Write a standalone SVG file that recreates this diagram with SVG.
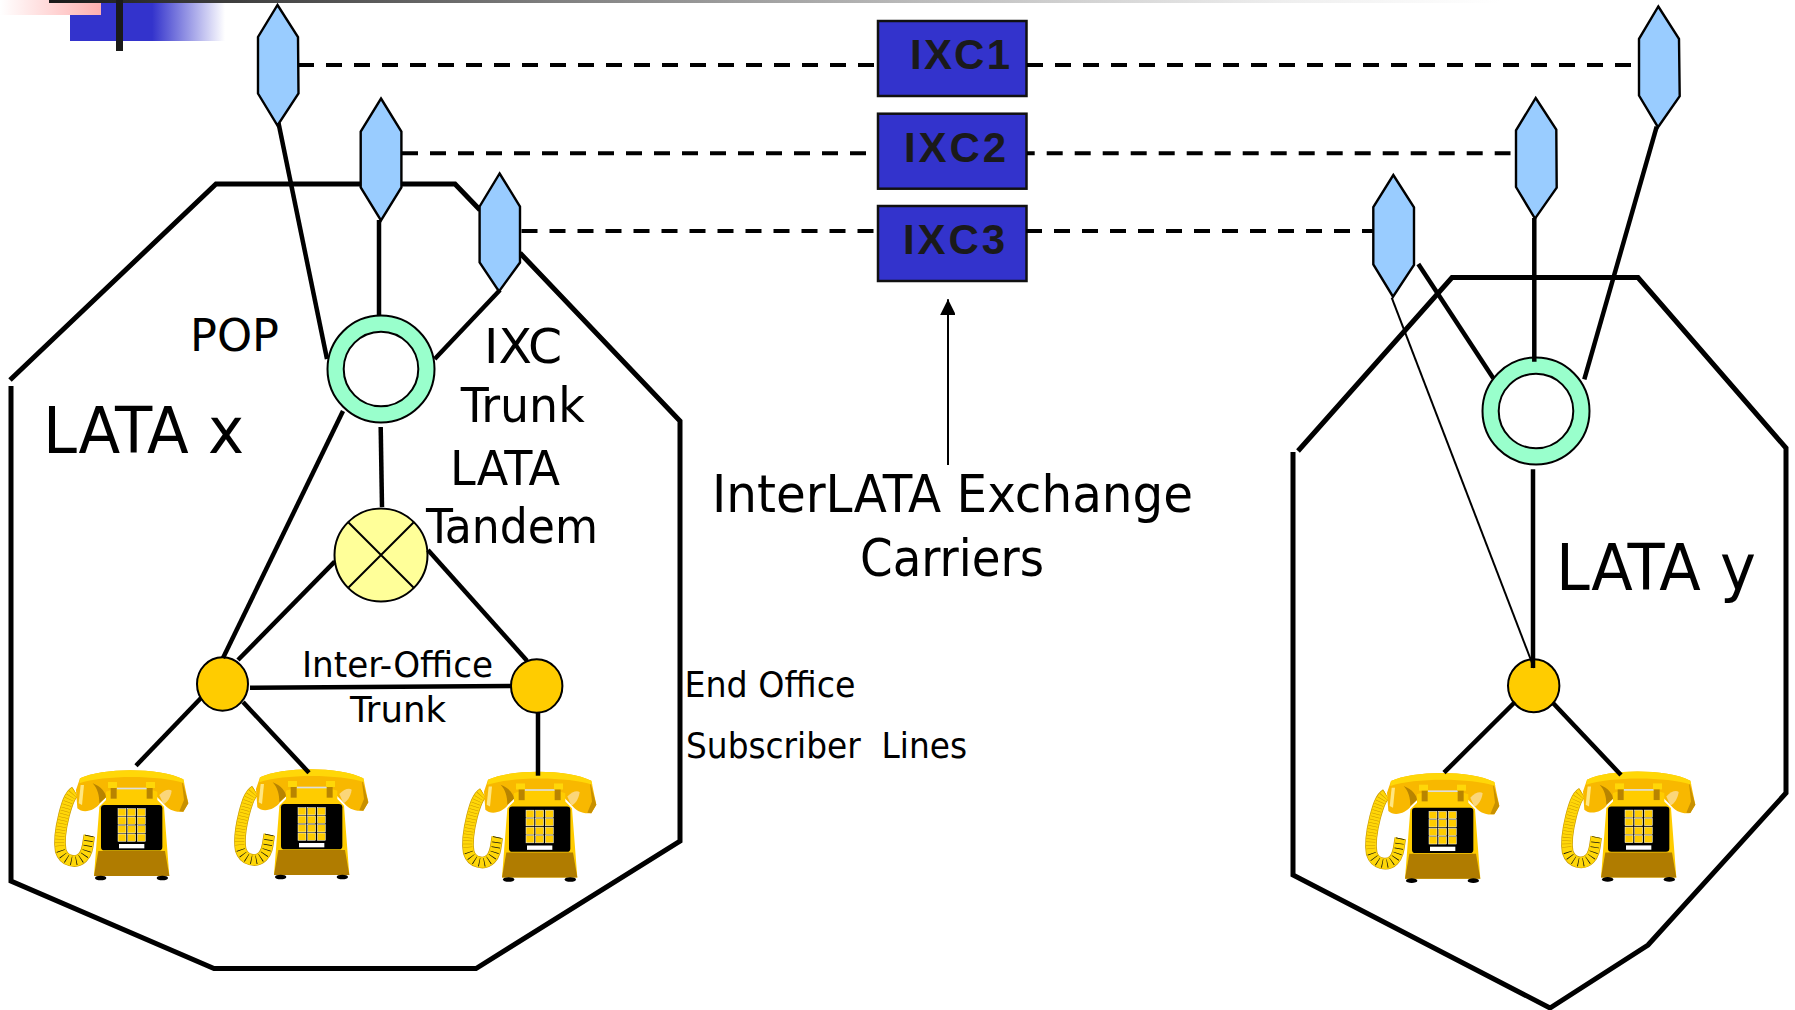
<svg xmlns="http://www.w3.org/2000/svg" xmlns:xlink="http://www.w3.org/1999/xlink" width="1795" height="1010" viewBox="0 0 1795 1010">
<style>
text{font-family:"DejaVu Sans","Noto Sans",sans-serif;font-stretch:condensed;fill:#000}
.region{fill:none;stroke:#000;stroke-width:5;stroke-linejoin:miter}
.link{fill:none;stroke:#000;stroke-width:4.5}
.thin{fill:none;stroke:#000;stroke-width:2}
.dash{fill:none;stroke:#000;stroke-width:4;stroke-dasharray:16 12}
.hex{fill:#99ccff;stroke:#000;stroke-width:2.4}
.ring{fill:#99ffcc;stroke:#000;stroke-width:2}
.hole{fill:#fff;stroke:#000;stroke-width:2}
.eo{fill:#ffcc00;stroke:#000;stroke-width:2}
.tandem{fill:#ffff99;stroke:#000;stroke-width:2}
.box{fill:#3333cc;stroke:#111;stroke-width:2.5}
.ixc{font-family:"Liberation Sans",Arial,sans-serif;font-weight:700;font-size:42px;fill:#1a1a1a;font-stretch:normal}
.key{fill:#ffcc00;stroke:#fff;stroke-width:1.5}
</style>
<defs>
<linearGradient id="gBar" x1="0" x2="1" y1="0" y2="0"><stop offset="0" stop-color="#1a1a1a"/><stop offset=".35" stop-color="#808080"/><stop offset=".62" stop-color="#c0c0c0"/><stop offset=".85" stop-color="#eeeeee"/><stop offset="1" stop-color="#ffffff"/></linearGradient>
<linearGradient id="gBlue" x1="0" x2="1" y1="0" y2="0"><stop offset="0" stop-color="#3333cc"/><stop offset=".53" stop-color="#3333cc"/><stop offset="1" stop-color="#ffffff"/></linearGradient>
<linearGradient id="gPink" x1="0" x2="1" y1="0" y2="0"><stop offset="0" stop-color="#ffffff"/><stop offset="1" stop-color="#ffb0b0"/></linearGradient>
<marker id="arrow" markerUnits="userSpaceOnUse" markerWidth="16" markerHeight="15" refX="16" refY="8" orient="auto"><path d="M0 0L16 8L0 16Z" fill="#000"/></marker>
<g id="phone" transform="translate(40 740) scale(.33333)">
  <path d="M105 155C88 165 80 195 72 225C62 265 56 300 62 332C72 364 108 372 128 352C145 335 143 310 148 287" fill="none" stroke="#c89a00" stroke-width="35"/>
  <path d="M105 155C88 165 80 195 72 225C62 265 56 300 62 332C72 364 108 372 128 352C145 335 143 310 148 287" fill="none" stroke="#ffd708" stroke-width="31"/>
  <path d="M105 155C88 165 80 195 72 225C62 265 56 300 60 322" fill="none" stroke="#c89400" stroke-width="28" stroke-dasharray="1.5 8"/>
  <path d="M62 332C72 364 108 372 128 352C145 335 143 310 148 287" fill="none" stroke="#111" stroke-width="26" stroke-dasharray="2 13"/>
  <path d="M120 115C190 82 360 82 430 118L445 190L430 215C405 218 385 210 370 190L340 160L210 160L180 190C165 212 130 222 112 205L108 150Z" fill="#f8b800"/>
  <path d="M425 118L445 190L430 215L418 214L432 180Z" fill="#c89000"/>
  <path d="M120 115C190 82 360 82 430 118L433 130C360 105 190 105 118 130Z" fill="#ffd708"/>
  <path d="M158 130C185 140 198 160 198 172L178 190C178 165 172 145 158 130Z" fill="#b88400"/>
  <path d="M122 135L132 135L126 195L116 190Z" fill="#ffe680"/>
  <path d="M358 165C372 150 388 145 395 152C392 172 382 188 370 192Z" fill="#fbd67a"/>
  <path d="M198 155L230 145L320 145L352 155L352 180L372 200L388 408L162 408L178 200L198 180Z" fill="#ffcc00"/>
  <rect x="230" y="143" width="92" height="5" fill="#ddd"/>
  <rect x="204" y="126" width="27" height="18" fill="#ffd708"/><rect x="318" y="126" width="27" height="18" fill="#ffd708"/>
  <rect x="212" y="144" width="18" height="32" fill="#b88400"/><rect x="320" y="144" width="18" height="32" fill="#b88400"/>
  <path d="M175 333L375 333L388 408L162 408Z" fill="#b07c00"/>
  <rect x="183" y="195" width="184" height="136" rx="10" fill="#000"/>
  <g>
   <rect class="key" x="234" y="206" width="24" height="22"/><rect class="key" x="263" y="206" width="24" height="22"/><rect class="key" x="292" y="206" width="24" height="22"/>
   <rect class="key" x="234" y="231" width="24" height="22"/><rect class="key" x="263" y="231" width="24" height="22"/><rect class="key" x="292" y="231" width="24" height="22"/>
   <rect class="key" x="234" y="257" width="24" height="22"/><rect class="key" x="263" y="257" width="24" height="22"/><rect class="key" x="292" y="257" width="24" height="22"/>
   <rect class="key" x="234" y="282" width="24" height="22"/><rect class="key" x="263" y="282" width="24" height="22"/><rect class="key" x="292" y="282" width="24" height="22"/>
  </g>
  <rect x="237" y="312" width="76" height="13" fill="#fff"/>
  <ellipse cx="182" cy="414" rx="17" ry="7" fill="#000"/><ellipse cx="367" cy="414" rx="17" ry="7" fill="#000"/>
 </g>
</defs>
<rect width="1795" height="1010" fill="#fff"/>
<g id="decoration">
 <rect x="70" y="3" width="155" height="38" fill="url(#gBlue)"/>
 <rect x="0" y="0" width="101" height="15" fill="url(#gPink)"/>
 <rect x="49" y="0" width="1451" height="3" fill="url(#gBar)"/>
 <rect x="116" y="0" width="7" height="51" fill="#1a1a1a"/>
</g>
<g id="regions">
 <path id="lata-x" class="region" d="M10 380L216 184H455L480 210M520 253L680 421V841L476 968.500H214L11 881V386"/>
 <path id="lata-y" class="region" d="M1298 451L1452 277.500H1638L1786 448V793L1648 945L1550 1008L1293 875V452"/>
</g>
<g id="hex-l1"><polygon class="hex" points="277.5,5 298,37 298.5,93.500 277.5,125.500 258,93.500 258,37"/></g>
<g id="hex-l2"><polygon class="hex" points="381,98.500 401.4,131.500 401.4,187.500 381,220.500 360.7,187.500 360.7,131.500"/></g>
<g id="hex-l3"><polygon class="hex" points="499.6,173.500 520,206.500 520,262.500 499,291.500 479.6,262.500 479.6,206.500"/></g>
<g id="hex-r1"><polygon class="hex" points="1658.3,6.500 1679,38.800 1679.7,96.200 1658,127.200 1639,95.500 1639,38.800"/></g>
<g id="hex-r2"><polygon class="hex" points="1535.7,98 1556.3,129.600 1556.700,187.600 1535,218.600 1516,187 1516,130.300"/></g>
<g id="hex-r3"><polygon class="hex" points="1393.3,175 1414,207.3 1414,265 1393,296.7 1373.3,264.3 1373.3,207"/></g>
<g id="ixc1"><rect class="box" x="878" y="21" width="148.500" height="75"/><text class="ixc" x="910" y="69" textLength="100">IXC1</text></g>
<g id="ixc2"><rect class="box" x="878" y="113.700" width="148.500" height="75"/><text class="ixc" x="904" y="162" textLength="102">IXC2</text></g>
<g id="ixc3"><rect class="box" x="878" y="206" width="148.500" height="75"/><text class="ixc" x="903" y="254" textLength="102">IXC3</text></g>
<g id="pop-left"><circle class="ring" cx="381" cy="369" r="53.500"/><circle class="hole" cx="381" cy="369" r="37.300"/></g>
<g id="pop-right"><circle class="ring" cx="1536" cy="411" r="53.500"/><circle class="hole" cx="1536" cy="411" r="37.300"/></g>
<g id="tandem"><circle class="tandem" cx="381" cy="555" r="46.500"/><path d="M348.500 522.500L413.500 587.500M413.500 522.500L348.500 587.500" fill="none" stroke="#000" stroke-width="2"/></g>
<g id="eo-left"><ellipse class="eo" cx="222.500" cy="684" rx="25.500" ry="26.700"/></g>
<g id="eo-mid"><ellipse class="eo" cx="536.700" cy="686" rx="25.700" ry="26.700"/></g>
<g id="eo-right"><ellipse class="eo" cx="1533.700" cy="685.700" rx="25.700" ry="26.500"/></g>
<g id="phone-1"><use xlink:href="#phone" href="#phone"/></g>
<g id="phone-2"><use xlink:href="#phone" href="#phone" x="180" y="-1"/></g>
<g id="phone-3"><use xlink:href="#phone" href="#phone" x="408" y="1.500"/></g>
<g id="phone-4"><use xlink:href="#phone" href="#phone" x="1311" y="2.700"/></g>
<g id="phone-5"><use xlink:href="#phone" href="#phone" x="1507" y="1.400"/></g>
<g id="connectors">
 <path class="dash" d="M298 65H875"/><path class="dash" d="M1027 65H1631"/>
 <path class="dash" d="M402 153.300H866"/><path class="dash" style="stroke-dashoffset:8.300" d="M1027 153.300H1510.500"/>
 <path class="dash" d="M521.500 231H874"/><path class="dash" d="M1026 231H1373"/>
 <path class="link" d="M278.500 123L327 359"/>
 <path class="link" d="M379 220V316"/>
 <path class="link" d="M500 290L434.700 359"/>
 <path class="link" d="M380.700 427L382 507"/>
 <path class="link" d="M343 411L223 658"/>
 <path class="link" d="M334.700 561.700L238 660"/>
 <path class="link" d="M428 550L527 660.700"/>
 <path class="link" d="M250 687.700L511 686"/>
 <path class="link" d="M201 698L136 765.700"/>
 <path class="link" d="M243 702L309 772.700"/>
 <path class="link" d="M538 712.700V775.700"/>
 <path class="link" d="M1656.700 126.700L1584.300 379.300"/>
 <path class="link" d="M1534.300 218V361.700"/>
 <path class="link" d="M1418.300 264L1493.300 378.300"/>
 <path class="thin" d="M1391.700 297.700L1534 668"/>
 <path class="link" d="M1533 469.300V668"/>
 <path class="link" d="M1515 702L1444 772.700"/>
 <path class="link" d="M1553 703L1621 775"/>
 <path class="thin" d="M948 465V299.300" marker-end="url(#arrow)"/>
</g>
<g id="labels">
 <text x="190" y="351" font-size="44" textLength="89" lengthAdjust="spacingAndGlyphs">POP</text>
 <text x="43" y="453" font-size="64" textLength="201" lengthAdjust="spacingAndGlyphs">LATA x</text>
 <text x="1556" y="590" font-size="64" textLength="200" lengthAdjust="spacingAndGlyphs">LATA y</text>
 <text x="484" y="363.300" font-size="48" textLength="78" lengthAdjust="spacingAndGlyphs">IXC</text>
 <text x="460.700" y="421.700" font-size="48" textLength="124" lengthAdjust="spacingAndGlyphs">Trunk</text>
 <text x="450" y="485" font-size="48" textLength="110" lengthAdjust="spacingAndGlyphs">LATA</text>
 <text x="426" y="542.700" font-size="48" textLength="172" lengthAdjust="spacingAndGlyphs">Tandem</text>
 <text x="302" y="676.700" font-size="35" textLength="191" lengthAdjust="spacingAndGlyphs">Inter-Office</text>
 <text x="350" y="722.300" font-size="35" textLength="96" lengthAdjust="spacingAndGlyphs">Trunk</text>
 <text x="684.500" y="697.300" font-size="35" textLength="171" lengthAdjust="spacingAndGlyphs">End Office</text>
 <text x="686" y="758.300" font-size="35" textLength="281" lengthAdjust="spacingAndGlyphs" xml:space="preserve">Subscriber  Lines</text>
 <text x="712" y="512.300" font-size="51" textLength="481" lengthAdjust="spacingAndGlyphs">InterLATA Exchange</text>
 <text x="860" y="576" font-size="51" textLength="184" lengthAdjust="spacingAndGlyphs">Carriers</text>
</g>
</svg>
